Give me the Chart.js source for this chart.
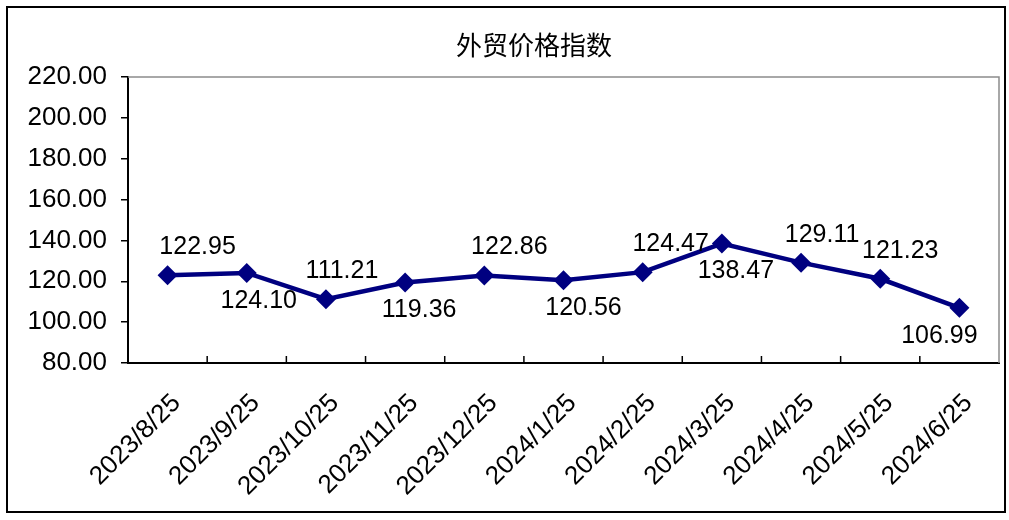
<!DOCTYPE html>
<html>
<head>
<meta charset="utf-8">
<script src="https://cdn.jsdelivr.net/npm/chart.js@4/dist/chart.umd.min.js"></script>
<style>
  html, body { margin: 0; padding: 0; background: #fff; }
  canvas { display: block; }
</style>
</head>
<body>
<canvas id="priceChart" width="1009" height="520"></canvas>
<script>
// Data
const chartTitle = "外贸价格指数";
const dates = [
    "2023/8/25", "2023/9/25", "2023/10/25", "2023/11/25", "2023/12/25",
    "2024/1/25", "2024/2/25", "2024/3/25", "2024/4/25", "2024/5/25", "2024/6/25"
];
const indexValues = [122.95, 124.10, 111.21, 119.36, 122.86, 120.56, 124.47, 138.47, 129.11, 121.23, 106.99];
const yTicks = [80, 100, 120, 140, 160, 180, 200, 220];

// Label placement (-1 above the point, 1 below) and small sideways nudges
const labelSide = [-1, 1, -1, 1, -1, 1, -1, 1, -1, -1, 1];
const labelNudge = [30, 12, 16, 14, 25, 20, 28, 14, 21, 20, -20];

const NAVY = "#000080";
const FONT = "'Liberation Sans', Arial, sans-serif";

// Frame, title, inner x ticks and value labels
const decorPlugin = {
    id: "decor",
    beforeDraw(chart) {
        const ctx = chart.ctx;
        ctx.save();
        ctx.fillStyle = "#fff";
        ctx.fillRect(0, 0, chart.width, chart.height);
        ctx.restore();
    },
    afterDatasetsDraw(chart) {
        const ctx = chart.ctx;
        const meta = chart.getDatasetMeta(0);
        ctx.save();
        ctx.font = "25px " + FONT;
        ctx.fillStyle = "#000";
        ctx.textAlign = "center";
        ctx.textBaseline = "middle";
        meta.data.forEach((pt, i) => {
            const txt = indexValues[i].toFixed(2);
            ctx.fillText(txt, pt.x + labelNudge[i], pt.y + labelSide[i] * 28);
        });
        ctx.restore();
    },
    afterDraw(chart) {
        const ctx = chart.ctx;
        const area = chart.chartArea;
        const x = chart.scales.x;
        ctx.save();

        // gray top and right edges of plot area
        ctx.strokeStyle = "#8c8c8c";
        ctx.lineWidth = 1.5;
        ctx.beginPath();
        ctx.moveTo(area.left, area.top);
        ctx.lineTo(area.right, area.top);
        ctx.lineTo(area.right, area.bottom);
        ctx.stroke();

        // x ticks between categories, pointing inward
        ctx.strokeStyle = "#000";
        ctx.lineWidth = 1.5;
        ctx.beginPath();
        for (let i = 1; i < dates.length; i++) {
            const px = (x.getPixelForValue(i - 1) + x.getPixelForValue(i)) / 2;
            ctx.moveTo(px, area.bottom);
            ctx.lineTo(px, area.bottom - 7);
        }
        ctx.stroke();

        // title
        ctx.font = "26px 'Noto Sans CJK SC', sans-serif";
        ctx.fillStyle = "#000";
        ctx.textAlign = "center";
        ctx.textBaseline = "middle";
        ctx.fillText(chartTitle, 534, 45);

        // outer border
        ctx.strokeStyle = "#000";
        ctx.lineWidth = 2;
        ctx.strokeRect(7, 7, 998, 505);
        ctx.restore();
    }
};

const ctx = document.getElementById("priceChart").getContext("2d");
new Chart(ctx, {
    type: "line",
    data: {
        labels: dates,
        datasets: [{
            data: indexValues,
            borderColor: NAVY,
            backgroundColor: NAVY,
            borderWidth: 4.5,
            tension: 0,
            pointStyle: "rectRot",
            pointRadius: 10,
            pointBorderWidth: 0,
            pointBackgroundColor: NAVY
        }]
    },
    options: {
        responsive: false,
        animation: false,
        devicePixelRatio: 1,
        layout: { padding: { left: 0, right: 8, top: 77, bottom: 0 } },
        plugins: {
            legend: { display: false },
            title: { display: false },
            tooltip: { enabled: false }
        },
        scales: {
            x: {
                offset: true,
                grid: { offset: true, drawOnChartArea: false, drawTicks: false },
                border: { color: "#000", width: 2 },
                ticks: {
                    autoSkip: false,
                    minRotation: 45,
                    maxRotation: 45,
                    padding: 25,
                    labelOffset: 9,
                    color: "#000",
                    font: { family: FONT, size: 26 }
                },
                afterFit(scale) { scale.height = 157; }
            },
            y: {
                min: yTicks[0],
                max: yTicks[yTicks.length - 1],
                afterBuildTicks(scale) { scale.ticks = yTicks.map(v => ({ value: v })); },
                grid: { drawOnChartArea: false, drawTicks: true, tickLength: 7, color: "#000", lineWidth: 1.5 },
                border: { color: "#000", width: 2 },
                ticks: {
                    padding: 14,
                    color: "#000",
                    font: { family: FONT, size: 26 },
                    callback: v => Number(v).toFixed(2)
                },
                afterFit(scale) { scale.width = 128; }
            }
        }
    },
    plugins: [decorPlugin]
});
</script>
</body>
</html>
